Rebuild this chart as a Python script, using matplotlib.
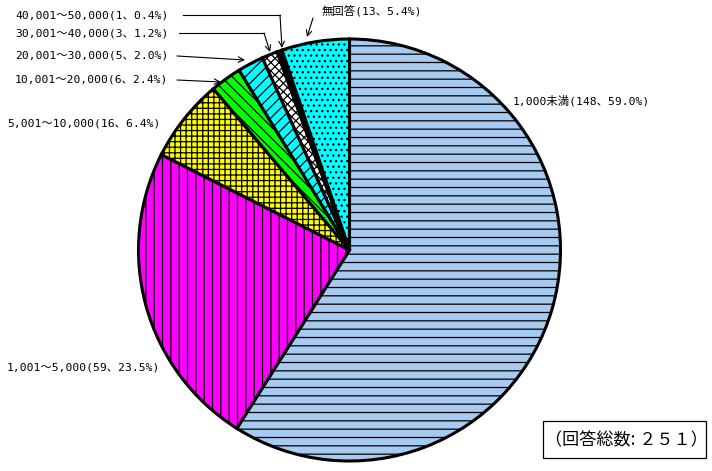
import matplotlib
matplotlib.use("Agg")
import matplotlib.pyplot as plt
from matplotlib.patches import Rectangle

# data
labels = ["1,000未満", "1,001～5,000", "5,001～10,000", "10,001～20,000",
          "20,001～30,000", "30,001～40,000", "40,001～50,000", "無回答"]
counts = [148, 59, 16, 6, 5, 3, 1, 13]
percents = ["59.0", "23.5", "6.4", "2.4", "2.0", "1.2", "0.4", "5.4"]
total = 251

colors = ["#A6CAF0", "#FF00FF", "#FFFF00", "#00FF00",
          "#00FFFF", "#FFFFFF", "#000000", "#00FFFF"]
hatches = ["--", "||", "+++", "\\\\\\", "///", "xxxx", "", "..."]

W, H = 712, 471
plt.rcParams["hatch.linewidth"] = 0.9
font = ["DejaVu Sans Mono", "Noto Sans CJK JP"]

fig = plt.figure(figsize=(W / 100, H / 100), dpi=100)
ax = fig.add_axes([0, 0, 1, 1])

wedges, _ = ax.pie(counts, colors=colors, startangle=270, counterclock=True,
                   center=(349.5, 250), radius=211,
                   wedgeprops=dict(edgecolor="black", linewidth=2.2))
for w, h in zip(wedges, hatches):
    w.set_hatch(h)

ax.set_xlim(0, W)
ax.set_ylim(H, 0)
ax.set_aspect("equal")
ax.axis("off")

texts = [f"{l}({c}、{p}%)" for l, c, p in zip(labels, counts, percents)]

# label positions (left x, centre y) in pixels
label_pos = [(513, 101), (7, 368), (7, 124), (15, 80),
             (15, 55), (15, 34), (15, 15), (322, 12)]
for t, (x, y) in zip(texts, label_pos):
    ax.text(x, y, t, ha="left", va="center", fontsize=8.2, family=font)

# leader lines
arrow = dict(arrowstyle="->", color="black", lw=0.8, shrinkA=0, shrinkB=0)
ax.plot([183, 280], [15, 15], color="black", lw=0.8)
ax.annotate("", xy=(282, 48), xytext=(280, 15), arrowprops=arrow)
ax.plot([179, 264], [33, 33], color="black", lw=0.8)
ax.annotate("", xy=(270, 52), xytext=(264, 33), arrowprops=arrow)
ax.annotate("", xy=(245, 60), xytext=(177, 56), arrowprops=arrow)
ax.annotate("", xy=(221, 82), xytext=(177, 80), arrowprops=arrow)
ax.annotate("", xy=(307, 37), xytext=(313, 18), arrowprops=arrow)

# total box
full_digits = str.maketrans("0123456789", "０１２３４５６７８９")
ax.add_patch(Rectangle((543, 421), 163, 37, fill=False, edgecolor="black", lw=0.9))
ax.text(626, 440, f"（回答総数: {str(total).translate(full_digits)}）",
        ha="center", va="center", fontsize=12.3, family=["Noto Sans CJK JP"])

fig.savefig("out.png", dpi=100)
